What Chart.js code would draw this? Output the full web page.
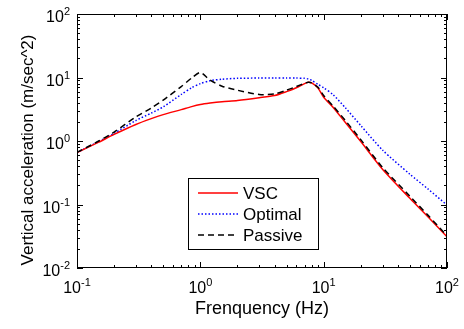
<!DOCTYPE html>
<html>
<head>
<meta charset="utf-8">
<script src="https://cdn.jsdelivr.net/npm/chart.js@4.4.1/dist/chart.umd.min.js"></script>
<style>
  html, body { margin: 0; padding: 0; background: #fff; }
  #wrap { width: 464px; height: 329px; position: relative; }
</style>
</head>
<body>
<div id="wrap"><canvas id="chart"></canvas></div>
<script>
// ── Data ──────────────────────────────────────────────────
const freqHz = [0.1, 0.15, 0.2, 0.3, 0.4, 0.5, 0.7, 0.85, 1, 1.2, 1.5, 2, 3, 4, 5, 6, 7, 7.5, 8, 9, 10, 12, 15, 20, 30, 50, 70, 100];
const vscAccel = [0.66, 0.96, 1.27, 1.82, 2.25, 2.6, 3.12, 3.48, 3.75, 3.95, 4.15, 4.35, 4.8, 5.2, 6.0, 6.9, 8.0, 8.4, 8.2, 6.8, 4.9, 3.35, 1.95, 0.98, 0.36, 0.125, 0.064, 0.031];
const optimalAccel = [0.66, 0.98, 1.32, 2.1, 2.75, 3.45, 5.4, 6.9, 8.0, 8.9, 9.4, 9.7, 9.8, 9.8, 9.8, 9.8, 9.7, 9.5, 9.0, 7.8, 6.9, 5.3, 3.33, 1.75, 0.72, 0.30, 0.176, 0.098];
const passiveAccel = [0.66, 1.0, 1.38, 2.4, 3.3, 4.4, 7.2, 9.8, 12.0, 9.1, 7.3, 6.3, 5.4, 5.5, 6.3, 7.2, 8.1, 8.4, 8.2, 7.0, 5.2, 3.5, 2.1, 1.05, 0.385, 0.135, 0.068, 0.032];
const seriesNames = ["VSC", "Optimal", "Passive"];
const xExponents = [-1, 0, 1, 2];
const yExponents = [-2, -1, 0, 1, 2];

const FONT = "'Liberation Sans', Arial, sans-serif";

const toPoints = (ys) => freqHz.map((f, i) => ({ x: f, y: ys[i] }));

// ── Frame, log ticks, labels, legend (Origin-style) ───────
const framePlugin = {
  id: "frame",
  afterDraw(chart) {
    const { ctx, chartArea: a, scales } = chart;
    const xs = scales.x, ys = scales.y;
    ctx.save();
    ctx.strokeStyle = "#000";
    ctx.lineWidth = 1;
    ctx.strokeRect(a.left + 0.5, a.top + 0.5, a.right - a.left - 1, a.bottom - a.top - 1);

    ctx.beginPath();
    const tickX = (v, len) => {
      const px = Math.round(xs.getPixelForValue(v)) + 0.5;
      ctx.moveTo(px, a.bottom); ctx.lineTo(px, a.bottom - len);
      ctx.moveTo(px, a.top); ctx.lineTo(px, a.top + len);
    };
    const tickY = (v, len) => {
      const py = Math.round(ys.getPixelForValue(v)) + 0.5;
      ctx.moveTo(a.left, py); ctx.lineTo(a.left + len, py);
      ctx.moveTo(a.right, py); ctx.lineTo(a.right - len, py);
    };
    xExponents.forEach((e, i) => {
      tickX(Math.pow(10, e), 6);
      if (i < xExponents.length - 1)
        for (let k = 2; k <= 9; k++) tickX(k * Math.pow(10, e), 3);
    });
    yExponents.forEach((e, i) => {
      tickY(Math.pow(10, e), 6);
      if (i < yExponents.length - 1)
        for (let k = 2; k <= 9; k++) tickY(k * Math.pow(10, e), 3);
    });
    ctx.stroke();

    // power-of-ten tick labels
    ctx.fillStyle = "#000";
    ctx.textBaseline = "alphabetic";
    const base = "16px " + FONT, sup = "11px " + FONT;
    const powLabel = (e, x, y, align) => {
      ctx.font = base; const wb = ctx.measureText("10").width;
      ctx.font = sup; const ws = ctx.measureText(String(e)).width;
      const left = align === "center" ? x - (wb + ws) / 2 : x - wb - ws;
      ctx.textAlign = "left";
      ctx.font = base; ctx.fillText("10", left, y);
      ctx.font = sup; ctx.fillText(String(e), left + wb, y - 7);
    };
    xExponents.forEach((e) => powLabel(e, xs.getPixelForValue(Math.pow(10, e)), a.bottom + 25, "center"));
    yExponents.forEach((e) => powLabel(e, a.left - 7, ys.getPixelForValue(Math.pow(10, e)) + 8, "right"));

    // axis titles
    ctx.font = "18px " + FONT;
    ctx.textAlign = "center";
    ctx.fillText("Frenquency (Hz)", (a.left + a.right) / 2, 314);
    ctx.save();
    ctx.translate(33, (a.top + a.bottom) / 2 + 9);
    ctx.rotate(-Math.PI / 2);
    ctx.font = "17px " + FONT;
    ctx.fillText("Vertical acceleration (m/sec^2)", 0, 0);
    ctx.restore();

    // legend box inside plot
    const box = { x: 188.5, y: 178.5, w: 130, h: 71 };
    ctx.fillStyle = "#fff";
    ctx.fillRect(box.x, box.y, box.w, box.h);
    ctx.strokeStyle = "#000";
    ctx.lineWidth = 1;
    ctx.setLineDash([]);
    ctx.strokeRect(box.x, box.y, box.w, box.h);
    chart.data.datasets.forEach((ds, i) => {
      const cy = 193 + i * 21;
      ctx.strokeStyle = ds.borderColor;
      ctx.lineWidth = ds.borderWidth;
      ctx.setLineDash(ds.borderDash || []);
      ctx.beginPath();
      ctx.moveTo(198, cy); ctx.lineTo(238, cy);
      ctx.stroke();
      ctx.setLineDash([]);
      ctx.fillStyle = "#000";
      ctx.font = "17px " + FONT;
      ctx.textAlign = "left";
      ctx.textBaseline = "middle";
      ctx.fillText(ds.label, 243, cy + 1);
    });
    ctx.restore();
  },
};

new Chart(document.getElementById("chart"), {
  type: "line",
  data: {
    datasets: [
      {
        label: seriesNames[0],
        data: toPoints(vscAccel),
        borderColor: "#ff0000",
        borderWidth: 1.5,
        order: 1,
      },
      {
        label: seriesNames[1],
        data: toPoints(optimalAccel),
        borderColor: "#0000ff",
        borderWidth: 1.5,
        borderDash: [1.5, 2],
        order: 2,
      },
      {
        label: seriesNames[2],
        data: toPoints(passiveAccel),
        borderColor: "#000000",
        borderWidth: 1.5,
        borderDash: [6, 4],
        order: 0,
      },
    ],
  },
  options: {
    responsive: true,
    maintainAspectRatio: false,
    animation: false,
    layout: { padding: { left: 77, top: 14, right: 17, bottom: 61 } },
    elements: {
      point: { radius: 0 },
      line: { tension: 0.25, fill: false },
    },
    scales: {
      x: {
        type: "logarithmic",
        min: 0.1,
        max: 100,
        ticks: { display: false },
        grid: { display: false, drawTicks: false },
        border: { display: false },
      },
      y: {
        type: "logarithmic",
        min: 0.01,
        max: 100,
        ticks: { display: false },
        grid: { display: false, drawTicks: false },
        border: { display: false },
      },
    },
    plugins: {
      legend: { display: false },
      tooltip: { enabled: false },
    },
  },
  plugins: [framePlugin],
});
</script>
</body>
</html>
